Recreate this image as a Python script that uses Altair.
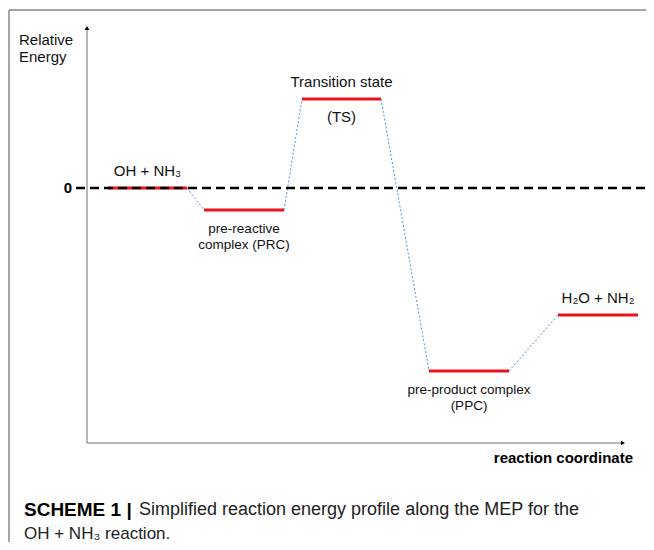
import altair as alt
import pandas as pd

# ---- data (arbitrary units) ----
level_names = ["OH + NH₃", "PRC", "TS", "PPC", "H₂O + NH₂"]
level_start = [21, 117, 215, 342, 471]      # reaction coordinate
level_end = [100, 197, 294, 422, 551]
level_energy = [0.0, -2.2, 8.9, -18.3, -12.7]  # relative energy

above_text = ["OH + NH₃", "", "Transition state", "", "H₂O + NH₂"]
below_text = ["", "pre-reactive\ncomplex (PRC)", "(TS)", "pre-product complex\n(PPC)", ""]

axis_min_energy = -25.5
axis_max_energy = 16.0
axis_max_coord = 536

levels = pd.DataFrame({
    "name": level_names,
    "x": level_start,
    "x2": level_end,
    "e": level_energy,
    "mid": [(a + b) / 2 for a, b in zip(level_start, level_end)],
    "above": above_text,
    "below": below_text,
})

conn = pd.DataFrame({
    "x": level_end[:-1],
    "e": level_energy[:-1],
    "x2": level_start[1:],
    "e2": level_energy[1:],
})

W, H = 638, 534
xs = alt.Scale(domain=[-79, 559], nice=False, zero=False)
ys = alt.Scale(domain=[-35.4, 18.0], nice=False, zero=False)
FONT = "Liberation Sans"

def X(f="x"):
    return alt.X(f, type="quantitative", scale=xs, axis=None)

def Y(f="e"):
    return alt.Y(f, type="quantitative", scale=ys, axis=None)

base = alt.Chart(levels)

red = base.mark_rule(color="#e8141b", strokeWidth=3).encode(
    x=X("x"), x2="x2", y=Y("e"))

connectors = alt.Chart(conn).mark_rule(
    color="#5b8fd6", strokeWidth=1, strokeDash=[2, 2]).encode(
    x=X("x"), y=Y("e"), x2="x2", y2="e2")

zero_line = alt.Chart(pd.DataFrame({"e": [0.0]})).mark_rule(
    color="black", strokeWidth=2.5, strokeDash=[9, 5]).encode(
    x=alt.value(68), x2=alt.value(W), y=Y("e"))

axes_df = pd.DataFrame({"x": [0], "y0": [axis_min_energy], "y1": [axis_max_energy],
                        "x1": [axis_max_coord]})
y_axis = alt.Chart(axes_df).mark_rule(color="#707070", strokeWidth=1).encode(
    x=X("x"), y=Y("y0"), y2="y1")
x_axis = alt.Chart(axes_df).mark_rule(color="#707070", strokeWidth=1).encode(
    x=X("x"), x2="x1", y=Y("y0"))
y_arrow = alt.Chart(axes_df).mark_point(
    shape="triangle-up", filled=True, color="black", size=22, opacity=1).encode(
    x=X("x"), y=Y("y1"))
x_arrow = alt.Chart(axes_df).mark_point(
    shape="triangle-right", filled=True, color="black", size=22, opacity=1).encode(
    x=X("x1"), y=Y("y0"))

zero_label = alt.Chart(pd.DataFrame({"x": [0], "e": [0.0], "t": ["0"]})).mark_text(
    font=FONT, fontSize=15, fontWeight="bold", align="right", baseline="middle",
    dx=-15, color="black").encode(x=X("x"), y=Y("e"), text="t:N")

above = base.transform_filter("datum.above != ''").mark_text(
    font=FONT, fontSize=15, align="center", baseline="middle", dy=-17,
    color="#111").encode(x=X("mid"), y=Y("e"), text="above:N")

below_ts = base.transform_filter("datum.name == 'TS'").mark_text(
    font=FONT, fontSize=15, align="center", baseline="middle", dy=18,
    color="#111").encode(x=X("mid"), y=Y("e"), text="below:N")

below_cx = base.transform_filter("datum.name == 'PRC' || datum.name == 'PPC'").transform_calculate(
    lines="split(datum.below, '\\n')").mark_text(
    font=FONT, fontSize=13.5, align="center", baseline="top", dy=12, lineHeight=15.5,
    color="#111").encode(x=X("mid"), y=Y("e"), text="lines:N")

ylab = alt.Chart(pd.DataFrame({"t": [["Relative", "Energy"]]})).mark_text(
    font=FONT, fontSize=15, align="left", baseline="middle", lineHeight=17,
    color="#111").encode(x=alt.value(11), y=alt.value(32), text="t")

xlab = alt.Chart(pd.DataFrame({"t": ["reaction coordinate"]})).mark_text(
    font=FONT, fontSize=15, fontWeight="bold", align="right", baseline="middle",
    color="black").encode(x=alt.value(625), y=alt.value(450), text="t:N")

cap_bold = alt.Chart(pd.DataFrame({"t": ["SCHEME 1 |"]})).mark_text(
    font=FONT, fontSize=19, fontWeight="bold", align="left", baseline="middle",
    color="black").encode(x=alt.value(16), y=alt.value(502), text="t:N")
cap_rest = alt.Chart(pd.DataFrame({"t": ["Simplified reaction energy profile along the MEP for the"]})).mark_text(
    font=FONT, fontSize=18, align="left", baseline="middle",
    color="#222").encode(x=alt.value(131), y=alt.value(502), text="t:N")
cap_line2 = alt.Chart(pd.DataFrame({"t": ["OH + NH₃ reaction."]})).mark_text(
    font=FONT, fontSize=17, align="left", baseline="middle",
    color="#222").encode(x=alt.value(16), y=alt.value(526), text="t:N")

frame_top = alt.Chart(pd.DataFrame({"a": [0]})).mark_rule(color="#8a8a8a", strokeWidth=1.5).encode(
    x=alt.value(1), x2=alt.value(W), y=alt.value(2))
frame_left = alt.Chart(pd.DataFrame({"a": [0]})).mark_rule(color="#8a8a8a", strokeWidth=1.5).encode(
    x=alt.value(1), y=alt.value(2), y2=alt.value(H))

chart = alt.layer(
    frame_top, frame_left, y_axis, x_axis, y_arrow, x_arrow,
    connectors, red, zero_line, zero_label, above, below_ts, below_cx,
    ylab, xlab, cap_bold, cap_rest, cap_line2,
).properties(
    width=W, height=H, autosize=alt.AutoSizeParams(type="none"), padding=0,
    background="white",
).configure_view(stroke=None)

chart.save("out.html", embed_options={"renderer": "svg", "actions": False})
